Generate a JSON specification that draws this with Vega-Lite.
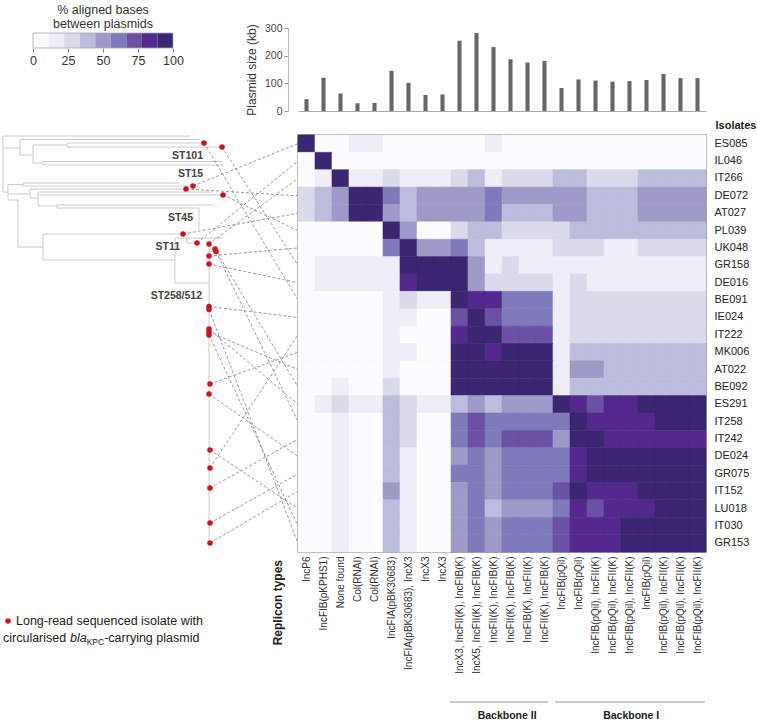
{
  "$schema": "https://vega.github.io/schema/vega-lite/v6.json",
  "background": "white",
  "padding": 0,
  "config": {"font": "Liberation Sans", "view": {"stroke": null}, "axis": {"grid": false}},
  "columns": 2,
  "spacing": {"row": 24, "column": 0},
  "align": "each",
  "bounds": "flush",
  "datasets": {
    "legendBins": [
      {"lo": 0, "hi": 11.11, "mid": 5.5}, {"lo": 11.11, "hi": 22.22, "mid": 16.6}, {"lo": 22.22, "hi": 33.33, "mid": 27.7},
      {"lo": 33.33, "hi": 44.44, "mid": 38.8}, {"lo": 44.44, "hi": 55.56, "mid": 50}, {"lo": 55.56, "hi": 66.67, "mid": 61.1},
      {"lo": 66.67, "hi": 77.78, "mid": 72.2}, {"lo": 77.78, "hi": 88.89, "mid": 83.3}, {"lo": 88.89, "hi": 100, "mid": 94.4}
    ],
    "bars": [
      {"c": 1, "kb": 43}, {"c": 2, "kb": 120}, {"c": 3, "kb": 63}, {"c": 4, "kb": 28}, {"c": 5, "kb": 29}, {"c": 6, "kb": 145},
      {"c": 7, "kb": 102}, {"c": 8, "kb": 58}, {"c": 9, "kb": 60}, {"c": 10, "kb": 254}, {"c": 11, "kb": 282}, {"c": 12, "kb": 231},
      {"c": 13, "kb": 187}, {"c": 14, "kb": 175}, {"c": 15, "kb": 181}, {"c": 16, "kb": 83}, {"c": 17, "kb": 114}, {"c": 18, "kb": 110},
      {"c": 19, "kb": 106}, {"c": 20, "kb": 108}, {"c": 21, "kb": 112}, {"c": 22, "kb": 134}, {"c": 23, "kb": 119}, {"c": 24, "kb": 119}
    ],
    "tree": [
      {"x1": 3, "y1": 136, "x2": 190, "y2": 136},
      {"x1": 3, "y1": 136, "x2": 3, "y2": 192},
      {"x1": 3, "y1": 148, "x2": 20, "y2": 148},
      {"x1": 20, "y1": 139.5, "x2": 20, "y2": 155},
      {"x1": 20, "y1": 139.5, "x2": 200, "y2": 139.5},
      {"x1": 20, "y1": 155, "x2": 33, "y2": 155},
      {"x1": 33, "y1": 145, "x2": 33, "y2": 163},
      {"x1": 33, "y1": 145, "x2": 67, "y2": 145},
      {"x1": 67, "y1": 143, "x2": 67, "y2": 147},
      {"x1": 67, "y1": 143, "x2": 204, "y2": 143},
      {"x1": 67, "y1": 147, "x2": 222, "y2": 147},
      {"x1": 33, "y1": 163, "x2": 43, "y2": 163},
      {"x1": 43, "y1": 161.5, "x2": 43, "y2": 165},
      {"x1": 43, "y1": 161.5, "x2": 223, "y2": 161.5},
      {"x1": 43, "y1": 165, "x2": 223, "y2": 165},
      {"x1": 3, "y1": 192, "x2": 8, "y2": 192},
      {"x1": 8, "y1": 184.5, "x2": 8, "y2": 200},
      {"x1": 8, "y1": 184.5, "x2": 23, "y2": 184.5},
      {"x1": 23, "y1": 183, "x2": 23, "y2": 186},
      {"x1": 23, "y1": 183, "x2": 180, "y2": 183},
      {"x1": 23, "y1": 186, "x2": 193, "y2": 186},
      {"x1": 8, "y1": 194, "x2": 30, "y2": 194},
      {"x1": 30, "y1": 189, "x2": 30, "y2": 198},
      {"x1": 30, "y1": 189, "x2": 186, "y2": 189},
      {"x1": 30, "y1": 198, "x2": 38, "y2": 198},
      {"x1": 38, "y1": 192, "x2": 38, "y2": 206},
      {"x1": 38, "y1": 192, "x2": 213, "y2": 192},
      {"x1": 38, "y1": 195, "x2": 223, "y2": 195},
      {"x1": 38, "y1": 206, "x2": 57, "y2": 206},
      {"x1": 57, "y1": 205, "x2": 57, "y2": 208},
      {"x1": 57, "y1": 205, "x2": 213, "y2": 205},
      {"x1": 57, "y1": 208, "x2": 199, "y2": 208},
      {"x1": 199, "y1": 208, "x2": 199, "y2": 230},
      {"x1": 8, "y1": 200, "x2": 18, "y2": 200},
      {"x1": 18, "y1": 200, "x2": 18, "y2": 247},
      {"x1": 18, "y1": 247, "x2": 43, "y2": 247},
      {"x1": 43, "y1": 234, "x2": 43, "y2": 260},
      {"x1": 43, "y1": 234, "x2": 183, "y2": 234},
      {"x1": 43, "y1": 260, "x2": 175, "y2": 260},
      {"x1": 175, "y1": 238, "x2": 175, "y2": 283},
      {"x1": 175, "y1": 238, "x2": 223, "y2": 238},
      {"x1": 187, "y1": 238, "x2": 187, "y2": 243},
      {"x1": 187, "y1": 243, "x2": 197, "y2": 243},
      {"x1": 175, "y1": 283, "x2": 209, "y2": 283},
      {"x1": 209, "y1": 244, "x2": 209, "y2": 545},
      {"x1": 209, "y1": 249, "x2": 215, "y2": 249},
      {"x1": 209, "y1": 251.5, "x2": 216, "y2": 251.5}
    ],
    "links": [
      {"dx": 204, "dy": 143, "ry": 300.06},
      {"dx": 222, "dy": 147, "ry": 265.31},
      {"dx": 193, "dy": 186, "ry": 143.69},
      {"dx": 186, "dy": 189, "ry": 195.81},
      {"dx": 223, "dy": 195, "ry": 230.56},
      {"dx": 183, "dy": 234, "ry": 213.19},
      {"dx": 197, "dy": 243, "ry": 161.06},
      {"dx": 209, "dy": 244, "ry": 178.44},
      {"dx": 215, "dy": 249, "ry": 386.94},
      {"dx": 216, "dy": 251.5, "ry": 421.69},
      {"dx": 209, "dy": 256, "ry": 247.94},
      {"dx": 209, "dy": 264, "ry": 282.69},
      {"dx": 209, "dy": 306.5, "ry": 317.44},
      {"dx": 209, "dy": 309.5, "ry": 543.31},
      {"dx": 209, "dy": 329, "ry": 404.31},
      {"dx": 209, "dy": 332, "ry": 369.56},
      {"dx": 209, "dy": 335, "ry": 525.94},
      {"dx": 210, "dy": 384, "ry": 352.19},
      {"dx": 209, "dy": 394, "ry": 456.44},
      {"dx": 210, "dy": 450, "ry": 508.56},
      {"dx": 210, "dy": 468, "ry": 334.81},
      {"dx": 210, "dy": 488, "ry": 439.06},
      {"dx": 210, "dy": 523, "ry": 473.81},
      {"dx": 210, "dy": 543, "ry": 491.19}
    ],
    "stLabels": [
      {"t": "ST101", "x": 203, "y": 156},
      {"t": "ST15", "x": 203, "y": 174},
      {"t": "ST45", "x": 193, "y": 218},
      {"t": "ST11", "x": 180, "y": 247},
      {"t": "ST258/512", "x": 202, "y": 296}
    ],
    "backbones": [
      {"name": "Backbone II", "from": 8.94, "to": 14.7, "mid": 12.3},
      {"name": "Backbone I", "from": 15.12, "to": 23.94, "mid": 19.6}
    ],
    "cells": [
{"r":"ES085","c":1,"v":100},{"r":"ES085","c":2,"v":2},{"r":"ES085","c":3,"v":2},{"r":"ES085","c":4,"v":16},{"r":"ES085","c":5,"v":16},{"r":"ES085","c":6,"v":2},{"r":"ES085","c":7,"v":2},{"r":"ES085","c":8,"v":2},{"r":"ES085","c":9,"v":2},{"r":"ES085","c":10,"v":2},{"r":"ES085","c":11,"v":2},{"r":"ES085","c":12,"v":16},{"r":"ES085","c":13,"v":2},{"r":"ES085","c":14,"v":2},{"r":"ES085","c":15,"v":2},{"r":"ES085","c":16,"v":2},{"r":"ES085","c":17,"v":2},{"r":"ES085","c":18,"v":2},{"r":"ES085","c":19,"v":2},{"r":"ES085","c":20,"v":2},{"r":"ES085","c":21,"v":2},{"r":"ES085","c":22,"v":2},{"r":"ES085","c":23,"v":2},{"r":"ES085","c":24,"v":2},
{"r":"IL046","c":1,"v":2},{"r":"IL046","c":2,"v":100},{"r":"IL046","c":3,"v":2},{"r":"IL046","c":4,"v":2},{"r":"IL046","c":5,"v":2},{"r":"IL046","c":6,"v":2},{"r":"IL046","c":7,"v":2},{"r":"IL046","c":8,"v":2},{"r":"IL046","c":9,"v":2},{"r":"IL046","c":10,"v":2},{"r":"IL046","c":11,"v":2},{"r":"IL046","c":12,"v":2},{"r":"IL046","c":13,"v":2},{"r":"IL046","c":14,"v":2},{"r":"IL046","c":15,"v":2},{"r":"IL046","c":16,"v":2},{"r":"IL046","c":17,"v":2},{"r":"IL046","c":18,"v":2},{"r":"IL046","c":19,"v":2},{"r":"IL046","c":20,"v":2},{"r":"IL046","c":21,"v":2},{"r":"IL046","c":22,"v":2},{"r":"IL046","c":23,"v":2},{"r":"IL046","c":24,"v":2},
{"r":"IT266","c":1,"v":2},{"r":"IT266","c":2,"v":16},{"r":"IT266","c":3,"v":100},{"r":"IT266","c":4,"v":16},{"r":"IT266","c":5,"v":16},{"r":"IT266","c":6,"v":27},{"r":"IT266","c":7,"v":16},{"r":"IT266","c":8,"v":16},{"r":"IT266","c":9,"v":16},{"r":"IT266","c":10,"v":27},{"r":"IT266","c":11,"v":38},{"r":"IT266","c":12,"v":16},{"r":"IT266","c":13,"v":27},{"r":"IT266","c":14,"v":27},{"r":"IT266","c":15,"v":27},{"r":"IT266","c":16,"v":38},{"r":"IT266","c":17,"v":38},{"r":"IT266","c":18,"v":27},{"r":"IT266","c":19,"v":27},{"r":"IT266","c":20,"v":27},{"r":"IT266","c":21,"v":38},{"r":"IT266","c":22,"v":38},{"r":"IT266","c":23,"v":38},{"r":"IT266","c":24,"v":38},
{"r":"DE072","c":1,"v":27},{"r":"DE072","c":2,"v":38},{"r":"DE072","c":3,"v":50},{"r":"DE072","c":4,"v":100},{"r":"DE072","c":5,"v":95},{"r":"DE072","c":6,"v":61},{"r":"DE072","c":7,"v":38},{"r":"DE072","c":8,"v":50},{"r":"DE072","c":9,"v":50},{"r":"DE072","c":10,"v":50},{"r":"DE072","c":11,"v":50},{"r":"DE072","c":12,"v":61},{"r":"DE072","c":13,"v":50},{"r":"DE072","c":14,"v":50},{"r":"DE072","c":15,"v":50},{"r":"DE072","c":16,"v":50},{"r":"DE072","c":17,"v":50},{"r":"DE072","c":18,"v":38},{"r":"DE072","c":19,"v":38},{"r":"DE072","c":20,"v":38},{"r":"DE072","c":21,"v":50},{"r":"DE072","c":22,"v":50},{"r":"DE072","c":23,"v":50},{"r":"DE072","c":24,"v":50},
{"r":"AT027","c":1,"v":27},{"r":"AT027","c":2,"v":38},{"r":"AT027","c":3,"v":50},{"r":"AT027","c":4,"v":95},{"r":"AT027","c":5,"v":100},{"r":"AT027","c":6,"v":50},{"r":"AT027","c":7,"v":38},{"r":"AT027","c":8,"v":50},{"r":"AT027","c":9,"v":50},{"r":"AT027","c":10,"v":50},{"r":"AT027","c":11,"v":50},{"r":"AT027","c":12,"v":61},{"r":"AT027","c":13,"v":38},{"r":"AT027","c":14,"v":38},{"r":"AT027","c":15,"v":38},{"r":"AT027","c":16,"v":50},{"r":"AT027","c":17,"v":50},{"r":"AT027","c":18,"v":38},{"r":"AT027","c":19,"v":38},{"r":"AT027","c":20,"v":38},{"r":"AT027","c":21,"v":50},{"r":"AT027","c":22,"v":50},{"r":"AT027","c":23,"v":50},{"r":"AT027","c":24,"v":50},
{"r":"PL039","c":1,"v":2},{"r":"PL039","c":2,"v":2},{"r":"PL039","c":3,"v":2},{"r":"PL039","c":4,"v":2},{"r":"PL039","c":5,"v":2},{"r":"PL039","c":6,"v":100},{"r":"PL039","c":7,"v":50},{"r":"PL039","c":8,"v":2},{"r":"PL039","c":9,"v":2},{"r":"PL039","c":10,"v":27},{"r":"PL039","c":11,"v":38},{"r":"PL039","c":12,"v":38},{"r":"PL039","c":13,"v":27},{"r":"PL039","c":14,"v":27},{"r":"PL039","c":15,"v":27},{"r":"PL039","c":16,"v":27},{"r":"PL039","c":17,"v":38},{"r":"PL039","c":18,"v":38},{"r":"PL039","c":19,"v":38},{"r":"PL039","c":20,"v":38},{"r":"PL039","c":21,"v":38},{"r":"PL039","c":22,"v":38},{"r":"PL039","c":23,"v":38},{"r":"PL039","c":24,"v":38},
{"r":"UK048","c":1,"v":2},{"r":"UK048","c":2,"v":2},{"r":"UK048","c":3,"v":2},{"r":"UK048","c":4,"v":2},{"r":"UK048","c":5,"v":2},{"r":"UK048","c":6,"v":61},{"r":"UK048","c":7,"v":100},{"r":"UK048","c":8,"v":50},{"r":"UK048","c":9,"v":50},{"r":"UK048","c":10,"v":61},{"r":"UK048","c":11,"v":38},{"r":"UK048","c":12,"v":16},{"r":"UK048","c":13,"v":16},{"r":"UK048","c":14,"v":16},{"r":"UK048","c":15,"v":16},{"r":"UK048","c":16,"v":27},{"r":"UK048","c":17,"v":27},{"r":"UK048","c":18,"v":27},{"r":"UK048","c":19,"v":16},{"r":"UK048","c":20,"v":16},{"r":"UK048","c":21,"v":27},{"r":"UK048","c":22,"v":27},{"r":"UK048","c":23,"v":27},{"r":"UK048","c":24,"v":27},
{"r":"GR158","c":1,"v":2},{"r":"GR158","c":2,"v":16},{"r":"GR158","c":3,"v":16},{"r":"GR158","c":4,"v":16},{"r":"GR158","c":5,"v":16},{"r":"GR158","c":6,"v":16},{"r":"GR158","c":7,"v":95},{"r":"GR158","c":8,"v":100},{"r":"GR158","c":9,"v":95},{"r":"GR158","c":10,"v":95},{"r":"GR158","c":11,"v":50},{"r":"GR158","c":12,"v":16},{"r":"GR158","c":13,"v":27},{"r":"GR158","c":14,"v":16},{"r":"GR158","c":15,"v":16},{"r":"GR158","c":16,"v":16},{"r":"GR158","c":17,"v":16},{"r":"GR158","c":18,"v":16},{"r":"GR158","c":19,"v":16},{"r":"GR158","c":20,"v":16},{"r":"GR158","c":21,"v":16},{"r":"GR158","c":22,"v":16},{"r":"GR158","c":23,"v":16},{"r":"GR158","c":24,"v":16},
{"r":"DE016","c":1,"v":2},{"r":"DE016","c":2,"v":16},{"r":"DE016","c":3,"v":16},{"r":"DE016","c":4,"v":16},{"r":"DE016","c":5,"v":16},{"r":"DE016","c":6,"v":16},{"r":"DE016","c":7,"v":83},{"r":"DE016","c":8,"v":95},{"r":"DE016","c":9,"v":100},{"r":"DE016","c":10,"v":95},{"r":"DE016","c":11,"v":50},{"r":"DE016","c":12,"v":27},{"r":"DE016","c":13,"v":27},{"r":"DE016","c":14,"v":27},{"r":"DE016","c":15,"v":27},{"r":"DE016","c":16,"v":16},{"r":"DE016","c":17,"v":27},{"r":"DE016","c":18,"v":16},{"r":"DE016","c":19,"v":16},{"r":"DE016","c":20,"v":16},{"r":"DE016","c":21,"v":16},{"r":"DE016","c":22,"v":16},{"r":"DE016","c":23,"v":16},{"r":"DE016","c":24,"v":16},
{"r":"BE091","c":1,"v":2},{"r":"BE091","c":2,"v":2},{"r":"BE091","c":3,"v":2},{"r":"BE091","c":4,"v":2},{"r":"BE091","c":5,"v":2},{"r":"BE091","c":6,"v":16},{"r":"BE091","c":7,"v":27},{"r":"BE091","c":8,"v":16},{"r":"BE091","c":9,"v":16},{"r":"BE091","c":10,"v":100},{"r":"BE091","c":11,"v":83},{"r":"BE091","c":12,"v":83},{"r":"BE091","c":13,"v":61},{"r":"BE091","c":14,"v":61},{"r":"BE091","c":15,"v":61},{"r":"BE091","c":16,"v":16},{"r":"BE091","c":17,"v":27},{"r":"BE091","c":18,"v":27},{"r":"BE091","c":19,"v":27},{"r":"BE091","c":20,"v":27},{"r":"BE091","c":21,"v":27},{"r":"BE091","c":22,"v":27},{"r":"BE091","c":23,"v":27},{"r":"BE091","c":24,"v":27},
{"r":"IE024","c":1,"v":2},{"r":"IE024","c":2,"v":2},{"r":"IE024","c":3,"v":2},{"r":"IE024","c":4,"v":2},{"r":"IE024","c":5,"v":2},{"r":"IE024","c":6,"v":16},{"r":"IE024","c":7,"v":16},{"r":"IE024","c":8,"v":2},{"r":"IE024","c":9,"v":2},{"r":"IE024","c":10,"v":72},{"r":"IE024","c":11,"v":100},{"r":"IE024","c":12,"v":72},{"r":"IE024","c":13,"v":61},{"r":"IE024","c":14,"v":61},{"r":"IE024","c":15,"v":61},{"r":"IE024","c":16,"v":16},{"r":"IE024","c":17,"v":27},{"r":"IE024","c":18,"v":27},{"r":"IE024","c":19,"v":27},{"r":"IE024","c":20,"v":27},{"r":"IE024","c":21,"v":27},{"r":"IE024","c":22,"v":27},{"r":"IE024","c":23,"v":27},{"r":"IE024","c":24,"v":27},
{"r":"IT222","c":1,"v":2},{"r":"IT222","c":2,"v":2},{"r":"IT222","c":3,"v":2},{"r":"IT222","c":4,"v":2},{"r":"IT222","c":5,"v":2},{"r":"IT222","c":6,"v":16},{"r":"IT222","c":7,"v":2},{"r":"IT222","c":8,"v":2},{"r":"IT222","c":9,"v":2},{"r":"IT222","c":10,"v":83},{"r":"IT222","c":11,"v":95},{"r":"IT222","c":12,"v":100},{"r":"IT222","c":13,"v":72},{"r":"IT222","c":14,"v":72},{"r":"IT222","c":15,"v":72},{"r":"IT222","c":16,"v":16},{"r":"IT222","c":17,"v":27},{"r":"IT222","c":18,"v":27},{"r":"IT222","c":19,"v":27},{"r":"IT222","c":20,"v":27},{"r":"IT222","c":21,"v":27},{"r":"IT222","c":22,"v":27},{"r":"IT222","c":23,"v":27},{"r":"IT222","c":24,"v":27},
{"r":"MK006","c":1,"v":2},{"r":"MK006","c":2,"v":2},{"r":"MK006","c":3,"v":2},{"r":"MK006","c":4,"v":2},{"r":"MK006","c":5,"v":2},{"r":"MK006","c":6,"v":16},{"r":"MK006","c":7,"v":16},{"r":"MK006","c":8,"v":2},{"r":"MK006","c":9,"v":2},{"r":"MK006","c":10,"v":95},{"r":"MK006","c":11,"v":95},{"r":"MK006","c":12,"v":83},{"r":"MK006","c":13,"v":100},{"r":"MK006","c":14,"v":95},{"r":"MK006","c":15,"v":95},{"r":"MK006","c":16,"v":16},{"r":"MK006","c":17,"v":38},{"r":"MK006","c":18,"v":38},{"r":"MK006","c":19,"v":38},{"r":"MK006","c":20,"v":38},{"r":"MK006","c":21,"v":38},{"r":"MK006","c":22,"v":38},{"r":"MK006","c":23,"v":38},{"r":"MK006","c":24,"v":38},
{"r":"AT022","c":1,"v":2},{"r":"AT022","c":2,"v":2},{"r":"AT022","c":3,"v":2},{"r":"AT022","c":4,"v":2},{"r":"AT022","c":5,"v":2},{"r":"AT022","c":6,"v":16},{"r":"AT022","c":7,"v":2},{"r":"AT022","c":8,"v":2},{"r":"AT022","c":9,"v":2},{"r":"AT022","c":10,"v":95},{"r":"AT022","c":11,"v":95},{"r":"AT022","c":12,"v":95},{"r":"AT022","c":13,"v":95},{"r":"AT022","c":14,"v":100},{"r":"AT022","c":15,"v":95},{"r":"AT022","c":16,"v":16},{"r":"AT022","c":17,"v":50},{"r":"AT022","c":18,"v":50},{"r":"AT022","c":19,"v":38},{"r":"AT022","c":20,"v":38},{"r":"AT022","c":21,"v":38},{"r":"AT022","c":22,"v":38},{"r":"AT022","c":23,"v":38},{"r":"AT022","c":24,"v":38},
{"r":"BE092","c":1,"v":2},{"r":"BE092","c":2,"v":2},{"r":"BE092","c":3,"v":16},{"r":"BE092","c":4,"v":2},{"r":"BE092","c":5,"v":2},{"r":"BE092","c":6,"v":27},{"r":"BE092","c":7,"v":2},{"r":"BE092","c":8,"v":2},{"r":"BE092","c":9,"v":2},{"r":"BE092","c":10,"v":95},{"r":"BE092","c":11,"v":95},{"r":"BE092","c":12,"v":95},{"r":"BE092","c":13,"v":95},{"r":"BE092","c":14,"v":95},{"r":"BE092","c":15,"v":100},{"r":"BE092","c":16,"v":16},{"r":"BE092","c":17,"v":38},{"r":"BE092","c":18,"v":38},{"r":"BE092","c":19,"v":38},{"r":"BE092","c":20,"v":38},{"r":"BE092","c":21,"v":38},{"r":"BE092","c":22,"v":38},{"r":"BE092","c":23,"v":38},{"r":"BE092","c":24,"v":38},
{"r":"ES291","c":1,"v":2},{"r":"ES291","c":2,"v":16},{"r":"ES291","c":3,"v":27},{"r":"ES291","c":4,"v":16},{"r":"ES291","c":5,"v":16},{"r":"ES291","c":6,"v":38},{"r":"ES291","c":7,"v":27},{"r":"ES291","c":8,"v":16},{"r":"ES291","c":9,"v":16},{"r":"ES291","c":10,"v":38},{"r":"ES291","c":11,"v":50},{"r":"ES291","c":12,"v":38},{"r":"ES291","c":13,"v":50},{"r":"ES291","c":14,"v":50},{"r":"ES291","c":15,"v":50},{"r":"ES291","c":16,"v":100},{"r":"ES291","c":17,"v":83},{"r":"ES291","c":18,"v":72},{"r":"ES291","c":19,"v":83},{"r":"ES291","c":20,"v":83},{"r":"ES291","c":21,"v":95},{"r":"ES291","c":22,"v":95},{"r":"ES291","c":23,"v":95},{"r":"ES291","c":24,"v":95},
{"r":"IT258","c":1,"v":2},{"r":"IT258","c":2,"v":2},{"r":"IT258","c":3,"v":16},{"r":"IT258","c":4,"v":2},{"r":"IT258","c":5,"v":2},{"r":"IT258","c":6,"v":38},{"r":"IT258","c":7,"v":27},{"r":"IT258","c":8,"v":2},{"r":"IT258","c":9,"v":2},{"r":"IT258","c":10,"v":61},{"r":"IT258","c":11,"v":72},{"r":"IT258","c":12,"v":61},{"r":"IT258","c":13,"v":61},{"r":"IT258","c":14,"v":61},{"r":"IT258","c":15,"v":61},{"r":"IT258","c":16,"v":61},{"r":"IT258","c":17,"v":100},{"r":"IT258","c":18,"v":83},{"r":"IT258","c":19,"v":83},{"r":"IT258","c":20,"v":83},{"r":"IT258","c":21,"v":83},{"r":"IT258","c":22,"v":95},{"r":"IT258","c":23,"v":95},{"r":"IT258","c":24,"v":95},
{"r":"IT242","c":1,"v":2},{"r":"IT242","c":2,"v":2},{"r":"IT242","c":3,"v":16},{"r":"IT242","c":4,"v":2},{"r":"IT242","c":5,"v":2},{"r":"IT242","c":6,"v":38},{"r":"IT242","c":7,"v":27},{"r":"IT242","c":8,"v":2},{"r":"IT242","c":9,"v":2},{"r":"IT242","c":10,"v":61},{"r":"IT242","c":11,"v":72},{"r":"IT242","c":12,"v":61},{"r":"IT242","c":13,"v":72},{"r":"IT242","c":14,"v":72},{"r":"IT242","c":15,"v":72},{"r":"IT242","c":16,"v":50},{"r":"IT242","c":17,"v":95},{"r":"IT242","c":18,"v":100},{"r":"IT242","c":19,"v":83},{"r":"IT242","c":20,"v":83},{"r":"IT242","c":21,"v":83},{"r":"IT242","c":22,"v":83},{"r":"IT242","c":23,"v":83},{"r":"IT242","c":24,"v":83},
{"r":"DE024","c":1,"v":2},{"r":"DE024","c":2,"v":2},{"r":"DE024","c":3,"v":16},{"r":"DE024","c":4,"v":2},{"r":"DE024","c":5,"v":2},{"r":"DE024","c":6,"v":38},{"r":"DE024","c":7,"v":16},{"r":"DE024","c":8,"v":2},{"r":"DE024","c":9,"v":2},{"r":"DE024","c":10,"v":50},{"r":"DE024","c":11,"v":61},{"r":"DE024","c":12,"v":50},{"r":"DE024","c":13,"v":61},{"r":"DE024","c":14,"v":61},{"r":"DE024","c":15,"v":61},{"r":"DE024","c":16,"v":61},{"r":"DE024","c":17,"v":83},{"r":"DE024","c":18,"v":95},{"r":"DE024","c":19,"v":100},{"r":"DE024","c":20,"v":95},{"r":"DE024","c":21,"v":95},{"r":"DE024","c":22,"v":95},{"r":"DE024","c":23,"v":95},{"r":"DE024","c":24,"v":95},
{"r":"GR075","c":1,"v":2},{"r":"GR075","c":2,"v":2},{"r":"GR075","c":3,"v":16},{"r":"GR075","c":4,"v":2},{"r":"GR075","c":5,"v":2},{"r":"GR075","c":6,"v":38},{"r":"GR075","c":7,"v":16},{"r":"GR075","c":8,"v":2},{"r":"GR075","c":9,"v":2},{"r":"GR075","c":10,"v":61},{"r":"GR075","c":11,"v":61},{"r":"GR075","c":12,"v":50},{"r":"GR075","c":13,"v":61},{"r":"GR075","c":14,"v":61},{"r":"GR075","c":15,"v":61},{"r":"GR075","c":16,"v":61},{"r":"GR075","c":17,"v":83},{"r":"GR075","c":18,"v":95},{"r":"GR075","c":19,"v":95},{"r":"GR075","c":20,"v":100},{"r":"GR075","c":21,"v":95},{"r":"GR075","c":22,"v":95},{"r":"GR075","c":23,"v":95},{"r":"GR075","c":24,"v":95},
{"r":"IT152","c":1,"v":2},{"r":"IT152","c":2,"v":2},{"r":"IT152","c":3,"v":16},{"r":"IT152","c":4,"v":2},{"r":"IT152","c":5,"v":2},{"r":"IT152","c":6,"v":50},{"r":"IT152","c":7,"v":16},{"r":"IT152","c":8,"v":2},{"r":"IT152","c":9,"v":2},{"r":"IT152","c":10,"v":50},{"r":"IT152","c":11,"v":61},{"r":"IT152","c":12,"v":50},{"r":"IT152","c":13,"v":61},{"r":"IT152","c":14,"v":61},{"r":"IT152","c":15,"v":61},{"r":"IT152","c":16,"v":72},{"r":"IT152","c":17,"v":95},{"r":"IT152","c":18,"v":83},{"r":"IT152","c":19,"v":83},{"r":"IT152","c":20,"v":83},{"r":"IT152","c":21,"v":100},{"r":"IT152","c":22,"v":95},{"r":"IT152","c":23,"v":95},{"r":"IT152","c":24,"v":95},
{"r":"LU018","c":1,"v":2},{"r":"LU018","c":2,"v":2},{"r":"LU018","c":3,"v":16},{"r":"LU018","c":4,"v":2},{"r":"LU018","c":5,"v":2},{"r":"LU018","c":6,"v":38},{"r":"LU018","c":7,"v":16},{"r":"LU018","c":8,"v":2},{"r":"LU018","c":9,"v":2},{"r":"LU018","c":10,"v":50},{"r":"LU018","c":11,"v":61},{"r":"LU018","c":12,"v":38},{"r":"LU018","c":13,"v":50},{"r":"LU018","c":14,"v":50},{"r":"LU018","c":15,"v":50},{"r":"LU018","c":16,"v":61},{"r":"LU018","c":17,"v":83},{"r":"LU018","c":18,"v":72},{"r":"LU018","c":19,"v":83},{"r":"LU018","c":20,"v":83},{"r":"LU018","c":21,"v":83},{"r":"LU018","c":22,"v":100},{"r":"LU018","c":23,"v":95},{"r":"LU018","c":24,"v":95},
{"r":"IT030","c":1,"v":2},{"r":"IT030","c":2,"v":2},{"r":"IT030","c":3,"v":16},{"r":"IT030","c":4,"v":2},{"r":"IT030","c":5,"v":2},{"r":"IT030","c":6,"v":38},{"r":"IT030","c":7,"v":16},{"r":"IT030","c":8,"v":2},{"r":"IT030","c":9,"v":2},{"r":"IT030","c":10,"v":50},{"r":"IT030","c":11,"v":61},{"r":"IT030","c":12,"v":50},{"r":"IT030","c":13,"v":61},{"r":"IT030","c":14,"v":61},{"r":"IT030","c":15,"v":61},{"r":"IT030","c":16,"v":72},{"r":"IT030","c":17,"v":83},{"r":"IT030","c":18,"v":83},{"r":"IT030","c":19,"v":83},{"r":"IT030","c":20,"v":95},{"r":"IT030","c":21,"v":95},{"r":"IT030","c":22,"v":95},{"r":"IT030","c":23,"v":100},{"r":"IT030","c":24,"v":95},
{"r":"GR153","c":1,"v":2},{"r":"GR153","c":2,"v":2},{"r":"GR153","c":3,"v":16},{"r":"GR153","c":4,"v":2},{"r":"GR153","c":5,"v":2},{"r":"GR153","c":6,"v":38},{"r":"GR153","c":7,"v":16},{"r":"GR153","c":8,"v":2},{"r":"GR153","c":9,"v":2},{"r":"GR153","c":10,"v":50},{"r":"GR153","c":11,"v":61},{"r":"GR153","c":12,"v":50},{"r":"GR153","c":13,"v":61},{"r":"GR153","c":14,"v":61},{"r":"GR153","c":15,"v":61},{"r":"GR153","c":16,"v":72},{"r":"GR153","c":17,"v":83},{"r":"GR153","c":18,"v":83},{"r":"GR153","c":19,"v":83},{"r":"GR153","c":20,"v":95},{"r":"GR153","c":21,"v":95},{"r":"GR153","c":22,"v":95},{"r":"GR153","c":23,"v":95},{"r":"GR153","c":24,"v":100}
    ]
  },
  "concat": [
    {
      "width": 298, "height": 20,
      "layer": [
        {
          "data": {"name": "legendBins"},
          "mark": {"type": "rect"},
          "encoding": {
            "x": {"field": "lo", "type": "quantitative", "scale": {"domain": [-23.571, 189.286], "nice": false, "zero": false},
                  "axis": {"values": [0, 25, 50, 75, 100], "title": null, "domain": false, "tickSize": 4, "tickColor": "#888", "labelFontSize": 12.5, "labelColor": "#333", "labelPadding": 2, "labelFlush": false}},
            "x2": {"field": "hi"},
            "y": {"datum": 0, "type": "quantitative", "scale": {"domain": [0, 20], "nice": false, "zero": false}, "axis": null},
            "y2": {"datum": 15},
            "color": {"field": "mid", "type": "quantitative", "legend": null,
                      "scale": {"type": "threshold", "domain": [11.1, 22.2, 33.3, 44.4, 55.6, 66.7, 77.8, 88.9],
                                "range": ["#fcfbfd", "#efedf5", "#dadaeb", "#bcbddc", "#9e9ac8", "#7f7bba", "#6a51a3", "#53298d", "#3b2771"]}}
          }
        },
        {
          "data": {"values": [{}]},
          "mark": {"type": "rect", "filled": false, "stroke": "#aaaaaa", "strokeWidth": 0.8},
          "encoding": {"x": {"datum": 0, "type": "quantitative"}, "x2": {"datum": 100}, "y": {"datum": 0, "type": "quantitative"}, "y2": {"datum": 15}}
        },
        {
          "data": {"values": [{}]},
          "mark": {"type": "text", "fontSize": 12.5, "color": "#333", "align": "center", "baseline": "middle", "text": "% aligned bases"},
          "encoding": {"x": {"datum": 50, "type": "quantitative"}, "y": {"datum": 38, "type": "quantitative"}}
        },
        {
          "data": {"values": [{}]},
          "mark": {"type": "text", "fontSize": 12.5, "color": "#333", "align": "center", "baseline": "middle", "text": "between plasmids"},
          "encoding": {"x": {"datum": 50, "type": "quantitative"}, "y": {"datum": 24.5, "type": "quantitative"}}
        },
        {
          "data": {"values": [{}]},
          "mark": {"type": "rule", "opacity": 0, "strokeWidth": 0.1},
          "encoding": {"x": {"datum": -23.571, "type": "quantitative"}, "y": {"datum": 48, "type": "quantitative"}, "y2": {"datum": 47}}
        }
      ]
    },
    {
      "width": 408, "height": 83,
      "data": {"name": "bars"},
      "mark": {"type": "bar", "color": "#666666"},
      "encoding": {
        "x": {"field": "c", "type": "ordinal", "scale": {"paddingInner": 0.76, "paddingOuter": 0.38},
              "axis": {"title": null, "labels": false, "ticks": false, "domainColor": "#aaaaaa"}},
        "y": {"field": "kb", "type": "quantitative", "scale": {"domain": [0, 300], "nice": false},
              "axis": {"values": [0, 100, 200, 300], "title": "Plasmid size (kb)", "offset": 10, "tickSize": 4, "tickColor": "#999", "domainColor": "#bbbbbb",
                       "labelFontSize": 10.5, "labelColor": "#444", "titleFontSize": 12, "titleFontWeight": "normal", "titleColor": "#333", "titlePadding": 6}}
      }
    },
    {
      "width": 298, "height": 417,
      "layer": [
        {
          "data": {"name": "tree"},
          "mark": {"type": "rule", "color": "#cccccc", "strokeWidth": 1},
          "encoding": {
            "x": {"field": "x1", "type": "quantitative", "scale": {"domain": [0, 298], "nice": false, "zero": false}, "axis": null},
            "x2": {"field": "x2"},
            "y": {"field": "y1", "type": "quantitative", "scale": {"domain": [135, 552], "reverse": true, "nice": false, "zero": false}, "axis": null},
            "y2": {"field": "y2"}
          }
        },
        {
          "data": {"name": "links"},
          "mark": {"type": "rule", "color": "#808080", "strokeWidth": 0.8, "strokeDash": [3, 2]},
          "encoding": {
            "x": {"field": "dx", "type": "quantitative"},
            "x2": {"datum": 298},
            "y": {"field": "dy", "type": "quantitative"},
            "y2": {"field": "ry"}
          }
        },
        {
          "data": {"name": "links"},
          "mark": {"type": "point", "filled": true, "color": "#d0121b", "size": 30, "opacity": 1},
          "encoding": {"x": {"field": "dx", "type": "quantitative"}, "y": {"field": "dy", "type": "quantitative"}}
        },
        {
          "data": {"name": "stLabels"},
          "mark": {"type": "text", "align": "right", "baseline": "middle", "fontSize": 10.5, "fontWeight": "bold", "color": "#444"},
          "encoding": {"x": {"field": "x", "type": "quantitative"}, "y": {"field": "y", "type": "quantitative"}, "text": {"field": "t"}}
        }
      ]
    },
    {
      "width": 408, "height": 417,
      "view": {"stroke": "#8a8a8a", "strokeWidth": 1.5},
      "data": {"name": "cells"},
      "mark": {"type": "rect", "strokeWidth": 0.6},
      "encoding": {
        "x": {"field": "c", "type": "ordinal", "scale": {"paddingInner": 0, "paddingOuter": 0},
              "axis": {"orient": "bottom", "title": null, "labelAngle": 270, "ticks": false, "domain": false, "labelFontSize": 10, "labelColor": "#333", "labelPadding": 4, "labelLimit": 300,
                       "labelExpr": "datum.value == 1 ? 'IncP6' : datum.value == 2 ? 'IncFIB(pKPHS1)' : datum.value == 3 ? 'None found' : datum.value <= 5 ? 'Col(RNAI)' : datum.value == 6 ? 'IncFIA(pBK30683)' : datum.value == 7 ? 'IncFIA(pBK30683), IncX3' : datum.value <= 9 ? 'IncX3' : datum.value == 10 ? 'IncX3, IncFII(K), IncFIB(K)' : datum.value == 11 ? 'IncX5, IncFII(K), IncFIB(K)' : datum.value == 14 ? 'IncFIB(K), IncFII(K)' : datum.value <= 15 ? 'IncFII(K), IncFIB(K)' : (datum.value == 16 || datum.value == 17 || datum.value == 21) ? 'IncFIB(pQil)' : 'IncFIB(pQil), IncFII(K)'"}},
        "y": {"field": "r", "type": "ordinal",
              "scale": {"domain": ["ES085","IL046","IT266","DE072","AT027","PL039","UK048","GR158","DE016","BE091","IE024","IT222","MK006","AT022","BE092","ES291","IT258","IT242","DE024","GR075","IT152","LU018","IT030","GR153"], "paddingInner": 0, "paddingOuter": 0},
              "axis": {"orient": "right", "title": "Isolates", "titleAngle": 0, "titleX": 9, "titleY": -10, "titleAlign": "left", "titleBaseline": "middle", "titleFontSize": 11, "titleFontWeight": "bold", "titleColor": "#222",
                       "ticks": false, "domain": false, "labelFontSize": 11, "labelPadding": 8, "labelColor": "#222"}},
        "color": {"field": "v", "type": "quantitative", "legend": null,
                  "scale": {"type": "threshold", "domain": [11.1, 22.2, 33.3, 44.4, 55.6, 66.7, 77.8, 88.9],
                            "range": ["#fcfbfd", "#efedf5", "#dadaeb", "#bcbddc", "#9e9ac8", "#7f7bba", "#6a51a3", "#53298d", "#3b2771"]}},
        "stroke": {"field": "v", "type": "quantitative", "legend": null,
                  "scale": {"type": "threshold", "domain": [11.1, 22.2, 33.3, 44.4, 55.6, 66.7, 77.8, 88.9],
                            "range": ["#fcfbfd", "#efedf5", "#dadaeb", "#bcbddc", "#9e9ac8", "#7f7bba", "#6a51a3", "#53298d", "#3b2771"]}}
      }
    },
    {
      "width": 298, "height": 145,
      "layer": [
        {
          "data": {"values": [{}]},
          "mark": {"type": "point", "filled": true, "color": "#d0121b", "size": 30, "opacity": 1},
          "encoding": {
            "x": {"datum": 8, "type": "quantitative", "scale": {"domain": [0, 298], "nice": false, "zero": false}, "axis": null},
            "y": {"datum": 621, "type": "quantitative", "scale": {"domain": [576, 721], "reverse": true, "nice": false, "zero": false}, "axis": null}
          }
        },
        {
          "data": {"values": [{}]},
          "mark": {"type": "text", "align": "left", "baseline": "middle", "fontSize": 12.5, "color": "#222", "text": "Long-read sequenced isolate with"},
          "encoding": {"x": {"datum": 16, "type": "quantitative"}, "y": {"datum": 621, "type": "quantitative"}}
        },
        {
          "data": {"values": [{}]},
          "mark": {"type": "text", "align": "left", "baseline": "middle", "fontSize": 12.5, "color": "#222", "text": "circularised"},
          "encoding": {"x": {"datum": 3, "type": "quantitative"}, "y": {"datum": 638, "type": "quantitative"}}
        },
        {
          "data": {"values": [{}]},
          "mark": {"type": "text", "align": "left", "baseline": "middle", "fontSize": 12.5, "fontStyle": "italic", "color": "#222", "text": "bla"},
          "encoding": {"x": {"datum": 70, "type": "quantitative"}, "y": {"datum": 638, "type": "quantitative"}}
        },
        {
          "data": {"values": [{}]},
          "mark": {"type": "text", "align": "left", "baseline": "middle", "fontSize": 8.5, "color": "#222", "text": "KPC"},
          "encoding": {"x": {"datum": 86.7, "type": "quantitative"}, "y": {"datum": 642, "type": "quantitative"}}
        },
        {
          "data": {"values": [{}]},
          "mark": {"type": "text", "align": "left", "baseline": "middle", "fontSize": 12.5, "color": "#222", "text": "-carrying plasmid"},
          "encoding": {"x": {"datum": 104.2, "type": "quantitative"}, "y": {"datum": 638, "type": "quantitative"}}
        },
        {
          "data": {"values": [{}]},
          "mark": {"type": "text", "align": "right", "baseline": "middle", "angle": 270, "fontSize": 12, "fontWeight": "bold", "color": "#222", "text": "Replicon types"},
          "encoding": {"x": {"datum": 278, "type": "quantitative"}, "y": {"datum": 560, "type": "quantitative"}}
        }
      ]
    },
    {
      "width": 408, "height": 145,
      "layer": [
        {
          "data": {"name": "backbones"},
          "mark": {"type": "rule", "color": "#999999", "strokeWidth": 1.2},
          "encoding": {
            "x": {"field": "from", "type": "quantitative", "scale": {"domain": [0, 24], "nice": false, "zero": false}, "axis": null},
            "x2": {"field": "to"},
            "y": {"datum": 126, "type": "quantitative", "scale": {"domain": [0, 145], "reverse": true, "nice": false, "zero": false}, "axis": null}
          }
        },
        {
          "data": {"name": "backbones"},
          "mark": {"type": "text", "fontSize": 10.5, "fontWeight": "bold", "color": "#222", "baseline": "middle", "align": "center"},
          "encoding": {"x": {"field": "mid", "type": "quantitative"}, "y": {"datum": 140, "type": "quantitative"}, "text": {"field": "name"}}
        }
      ]
    }
  ]
}
